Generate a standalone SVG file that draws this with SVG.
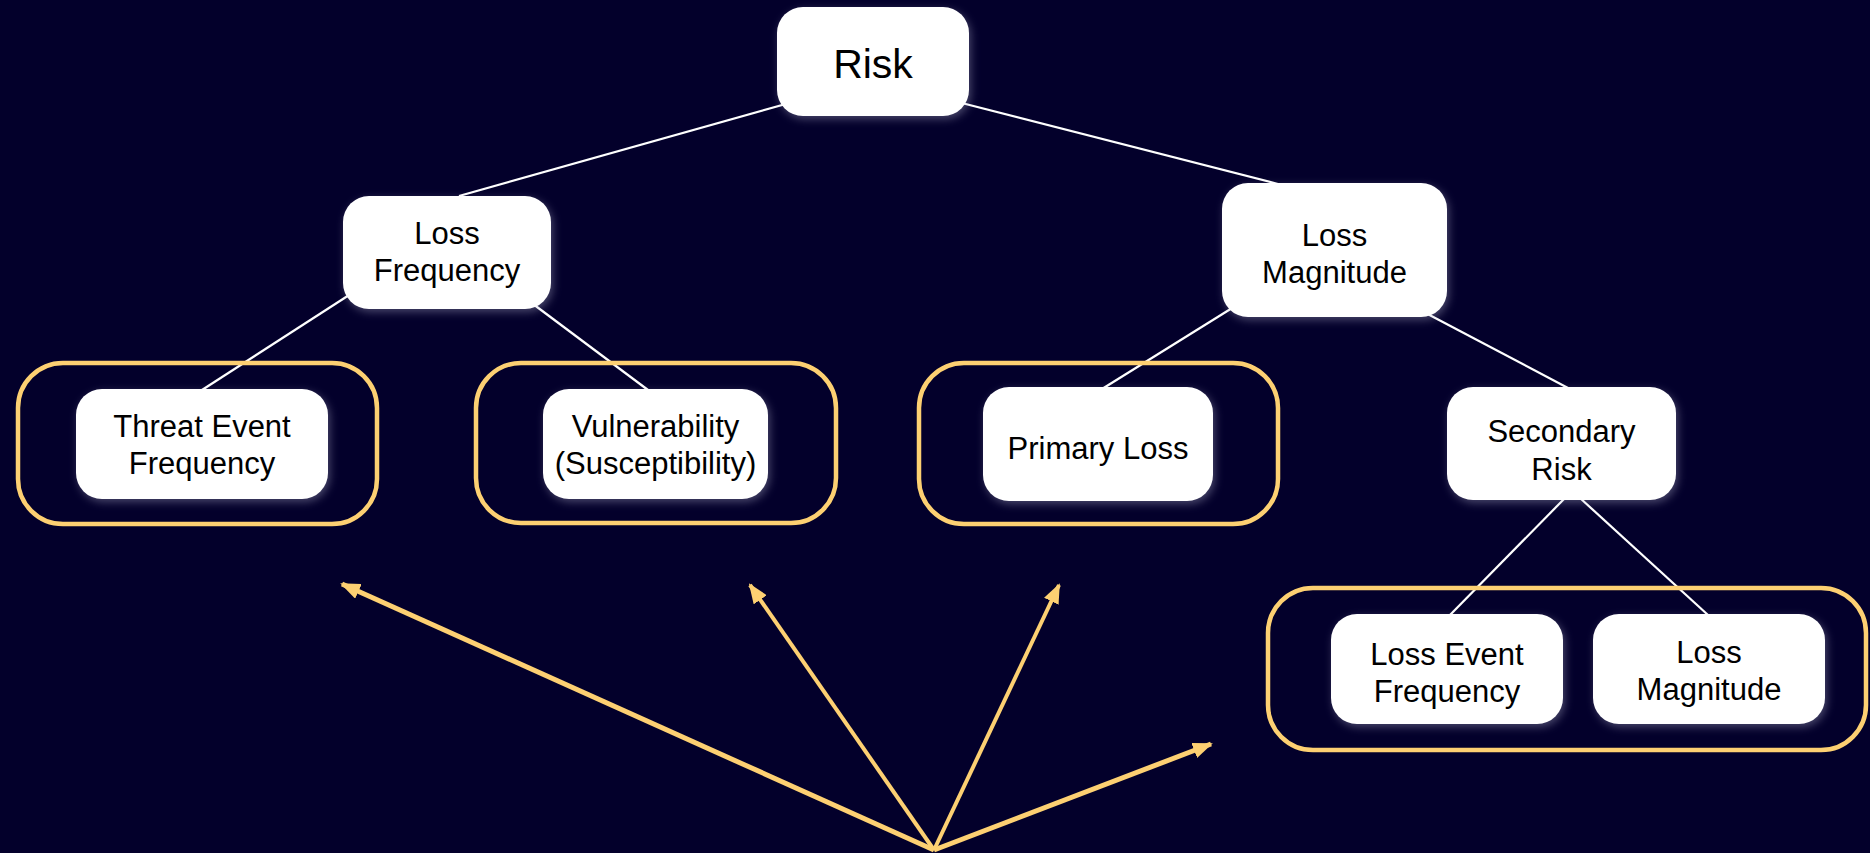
<svg xmlns="http://www.w3.org/2000/svg" width="1870" height="853" viewBox="0 0 1870 853">
<style>
.bg{fill:#03002b}
.box{fill:#ffffff;filter:url(#glow)}
.grp{fill:none;stroke:#fdd072;stroke-width:4.5}
.lnk{stroke:#ffffff;stroke-width:2.2;fill:none}
.arr{stroke:#fdd072;stroke-width:4;fill:none;marker-end:url(#ah)}
.thick{stroke-width:5}
text{font-family:"Liberation Sans",Arial,sans-serif;font-size:31px;fill:#000;text-anchor:middle}
</style>
<defs>
<filter id="glow" x="-20%" y="-20%" width="140%" height="140%">
<feDropShadow dx="2" dy="3" stdDeviation="4" flood-color="#c8c8e0" flood-opacity="0.35"/>
</filter>
<marker id="ah" markerUnits="userSpaceOnUse" markerWidth="20" markerHeight="16" refX="18" refY="8" orient="auto">
<path d="M0,0 L20,8 L0,16 Z" fill="#fdd072"/>
</marker>
</defs>
<rect class="bg" x="0" y="0" width="1870" height="853"/>
<g id="connectors">
<line class="lnk" x1="800" y1="100" x2="459" y2="196"/>
<line class="lnk" x1="950" y1="100" x2="1278" y2="184"/>
<line class="lnk" x1="360" y1="288" x2="202" y2="390"/>
<line class="lnk" x1="525" y1="298" x2="648" y2="390"/>
<line class="lnk" x1="1245" y1="300" x2="1102" y2="389"/>
<line class="lnk" x1="1420" y1="310" x2="1568" y2="388"/>
<line class="lnk" x1="1565" y1="498" x2="1450" y2="615"/>
<line class="lnk" x1="1580" y1="498" x2="1708" y2="615"/>
<line class="arr thick" x1="934" y1="850" x2="342" y2="584"/>
<line class="arr" x1="934" y1="850" x2="750" y2="585"/>
<line class="arr" x1="934" y1="850" x2="1059" y2="585"/>
<line class="arr thick" x1="934" y1="850" x2="1211" y2="744"/>
</g>
<g id="group-tef"><rect class="grp" x="18" y="363" width="359" height="161" rx="45"/></g>
<g id="group-vuln"><rect class="grp" x="476" y="363" width="360" height="160" rx="45"/></g>
<g id="group-primary"><rect class="grp" x="919" y="363" width="359" height="161" rx="45"/></g>
<g id="group-secondary"><rect class="grp" x="1268" y="588" width="598" height="162" rx="45"/></g>
<g id="risk">
<rect class="box" x="777" y="7" width="192" height="109" rx="26"/>
<text x="873" y="78" style="font-size:41px">Risk</text>
</g>
<g id="loss-frequency">
<rect class="box" x="343" y="196" width="208" height="113" rx="26"/>
<text x="447" y="244">Loss</text>
<text x="447" y="281">Frequency</text>
</g>
<g id="loss-magnitude">
<rect class="box" x="1222" y="183" width="225" height="134" rx="26"/>
<text x="1334.5" y="246">Loss</text>
<text x="1334.5" y="283">Magnitude</text>
</g>
<g id="threat-event-frequency">
<rect class="box" x="76" y="389" width="252" height="110" rx="26"/>
<text x="202" y="437">Threat Event</text>
<text x="202" y="474">Frequency</text>
</g>
<g id="vulnerability">
<rect class="box" x="543" y="389" width="225" height="110" rx="26"/>
<text x="655.5" y="437">Vulnerability</text>
<text x="655.5" y="474">(Susceptibility)</text>
</g>
<g id="primary-loss">
<rect class="box" x="983" y="387" width="230" height="114" rx="26"/>
<text x="1098" y="459">Primary Loss</text>
</g>
<g id="secondary-risk">
<rect class="box" x="1447" y="387" width="229" height="113" rx="26"/>
<text x="1561.5" y="442">Secondary</text>
<text x="1561.5" y="480">Risk</text>
</g>
<g id="loss-event-frequency">
<rect class="box" x="1331" y="614" width="232" height="110" rx="26"/>
<text x="1447" y="665">Loss Event</text>
<text x="1447" y="702">Frequency</text>
</g>
<g id="loss-magnitude-2">
<rect class="box" x="1593" y="614" width="232" height="110" rx="26"/>
<text x="1709" y="663">Loss</text>
<text x="1709" y="700">Magnitude</text>
</g>
</svg>
